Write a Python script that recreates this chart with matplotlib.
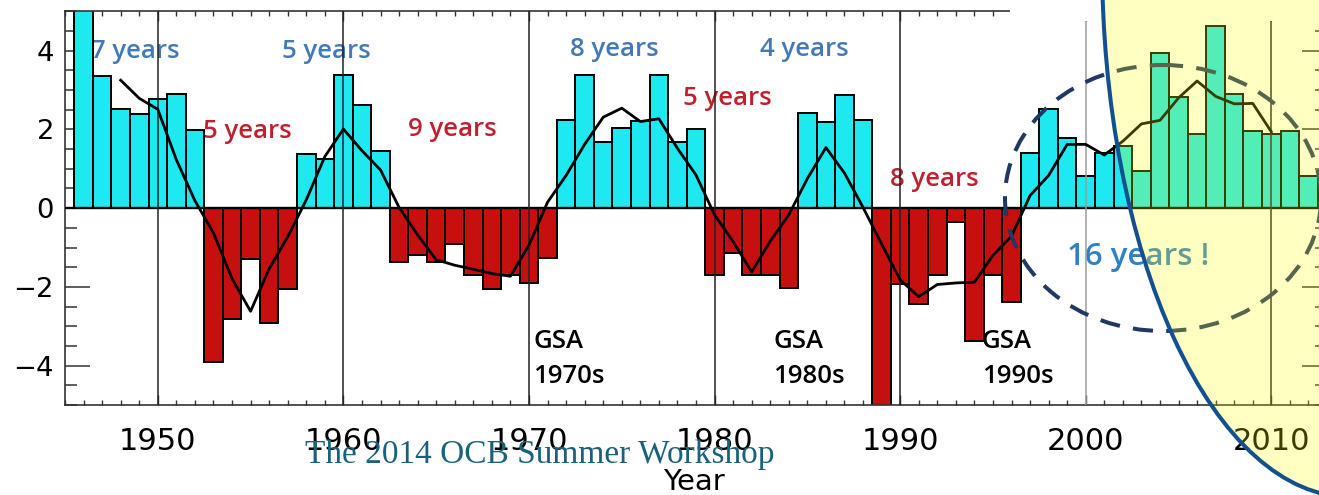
import matplotlib
matplotlib.use("Agg")
import matplotlib.pyplot as plt
from matplotlib.patches import Ellipse, Rectangle
from matplotlib.ticker import MultipleLocator, FixedLocator
from matplotlib.transforms import Affine2D

# ---- data -------------------------------------------------------------
years = list(range(1946, 2013))
anomaly = [
    5.4, 3.35, 2.52, 2.39, 2.78, 2.89, 1.99, -3.91, -2.82, -1.28,   # 1946-1955
    -2.91, -2.05, 1.37, 1.24, 3.38, 2.62, 1.44, -1.37, -1.20, -1.37,  # 1956-1965
    -0.90, -1.71, -2.05, -1.71, -1.91, -1.26, 2.25, 3.38, 1.69, 2.03,  # 1966-1975
    2.22, 3.38, 1.69, 2.01, -1.71, -1.15, -1.71, -1.71, -2.03, 2.42,   # 1976-1985
    2.20, 2.88, 2.25, -5.30, -1.92, -2.44, -1.71, -0.34, -3.38, -1.71,  # 1986-1995
    -2.39, 1.41, 2.52, 1.79, 0.81, 1.41, 1.58, 0.94, 3.93, 2.82,       # 1996-2005
    1.88, 4.62, 2.91, 1.97, 1.88, 1.97, 0.81,                          # 2006-2012
]

smooth_years = list(range(1948, 2011))
smooth = [
    3.25, 2.79, 2.51, 1.23, 0.19, -0.63, -1.79, -2.62, -1.54, -0.73,   # 1948-1957
    0.21, 1.31, 2.01, 1.46, 0.97, 0.02, -0.68, -1.31, -1.45, -1.55,     # 1958-1967
    -1.66, -1.73, -0.94, 0.15, 0.83, 1.62, 2.31, 2.54, 2.20, 2.27,      # 1968-1977
    1.52, 0.84, -0.17, -0.85, -1.62, -0.84, -0.17, 0.75, 1.54, 0.89,    # 1978-1987
    0.02, -0.91, -1.82, -2.25, -1.94, -1.90, -1.88, -1.20, -0.71, 0.32, # 1988-1997
    0.83, 1.62, 1.62, 1.35, 1.70, 2.14, 2.23, 2.80, 3.23, 2.84,         # 1998-2007
    2.65, 2.66, 1.94,                                                   # 2008-2010
]

decades = [1950, 1960, 1970, 1980, 1990, 2000, 2010]
decade_colors = ["#222222", "#222222", "#222222", "#222222", "#222222",
                 "#9c9c9c", "#222222"]

# (text, x, y, colour key)
period_labels = [
    ("7 years", 1946.40, 3.97, "pos"),
    ("5 years", 1952.44, 1.94, "neg"),
    ("5 years", 1956.69, 3.97, "pos"),
    ("9 years", 1963.48, 1.99, "neg"),
    ("8 years", 1972.21, 4.03, "pos"),
    ("5 years", 1978.30, 2.79, "neg"),
    ("4 years", 1982.45, 4.03, "pos"),
    ("8 years", 1989.45, 0.72, "neg"),
]
gsa_labels = [("GSA\n1970s", 1970.22), ("GSA\n1980s", 1983.15),
              ("GSA\n1990s", 1994.41)]

# ---- figure -----------------------------------------------------------
W, H = 1319, 495
fig = plt.figure(figsize=(W / 100, H / 100), dpi=100)
fig.patch.set_facecolor("white")
ax = fig.add_axes([65 / W, (H - 405) / H, (1327 - 65) / W, (405 - 11.3) / H])

CYAN = "#1ee9f1"
RED = "#c60f0f"
TXT = {"pos": "#4479b8", "neg": "#c0202e"}
ANN_FONT = ["Open Sans", "DejaVu Sans"]

bar_colors = [CYAN if v >= 0 else RED for v in anomaly]
ax.bar(years, anomaly, width=1.0, color=bar_colors, edgecolor="black",
       linewidth=1.4, zorder=2)
ax.axhline(0, color="black", lw=1.7, zorder=3)
for d, c in zip(decades, decade_colors):
    ax.axvline(d, color=c, lw=1.1, zorder=3)
ax.plot(smooth_years, smooth, color="black", lw=2.0, zorder=4)

for txt, x, y, key in period_labels:
    ax.text(x, y, txt, color=TXT[key], fontsize=18.5, fontweight="semibold",
            family=ANN_FONT, va="center", ha="left", zorder=1)
for txt, x in gsa_labels:
    ax.text(x, -3.07, txt, color="black", fontsize=18.5, fontweight="semibold",
            family=ANN_FONT, va="top", ha="left", linespacing=1.5, zorder=1)
ax.text(1998.99, -1.24, "16 years !", color="#2f80c4", fontsize=22.5,
        fontweight="semibold", family=ANN_FONT, va="center", ha="left",
        zorder=1)

ax.set_xlim(1945, 2013)
ax.set_ylim(-5, 5)
ax.xaxis.set_major_locator(FixedLocator(decades))
ax.xaxis.set_minor_locator(MultipleLocator(1))
ax.yaxis.set_major_locator(FixedLocator([-4, -2, 0, 2, 4]))
ax.yaxis.set_minor_locator(MultipleLocator(0.5))
ax.tick_params(axis="x", which="both", direction="in", top=True, bottom=True,
               width=1.0, color="#333333")
ax.tick_params(axis="x", which="major", length=7, labelsize=22, pad=16)
ax.tick_params(axis="x", which="minor", length=3.6)
ax.tick_params(axis="y", which="both", direction="in", left=True, right=True,
               width=1.1, color="#333333")
ax.tick_params(axis="y", which="major", length=18, labelsize=19.7, pad=8)
ax.tick_params(axis="y", which="minor", length=8.6)
for s in ax.spines.values():
    s.set_linewidth(1.2)
    s.set_color("#333333")

ax.set_xlabel("Year", fontsize=21)
ax.xaxis.set_label_coords((694 - 65) / 1262, (405 - 482) / 393.7)
ax.xaxis.label.set_va("center")

# ---- slide annotations (pixel coordinates, origin top-left) -------------
px = Affine2D().scale(1 / W, -1 / H).translate(0, 1) + fig.transFigure

fig.add_artist(Ellipse((1163, 198), 316, 266, transform=px, fill=False,
                       edgecolor="#1f3864", lw=2.9,
                       linestyle=(0, (5.0, 3.3)), zorder=5))
fig.add_artist(Rectangle((1010, -5), 320, 26, transform=px,
                         facecolor="white", edgecolor="none", zorder=6))
fig.add_artist(Ellipse((1350, -40), 2 * 248, 2 * 537, transform=px,
                       facecolor=(1.0, 1.0, 0.0, 0.24), edgecolor="none",
                       zorder=7))
fig.add_artist(Ellipse((1350, -40), 2 * 248, 2 * 537, transform=px,
                       fill=False, edgecolor="#12508f", lw=2.9, zorder=8))
fig.text(305 / W, 1 - 463 / H, "The 2014 OCB Summer Workshop",
         family=["Liberation Serif", "DejaVu Serif"], fontsize=24,
         color="#19627a", va="baseline", ha="left", zorder=9)

fig.savefig("out.png", dpi=100)
